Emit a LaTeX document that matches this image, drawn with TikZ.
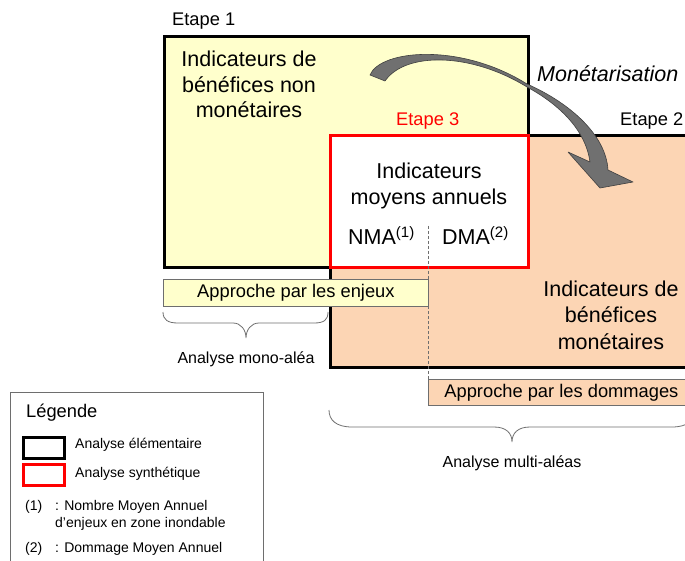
\documentclass[tikz,border=0pt]{standalone}
\usepackage{fontspec}
\setmainfont{Liberation Sans}
\definecolor{yel}{RGB}{255,255,204}
\definecolor{peach}{RGB}{252,213,180}
\definecolor{arrowgray}{RGB}{112,112,112}
\definecolor{edgegray}{RGB}{110,110,110}
\newcommand{\fbig}{\fontsize{21.5pt}{26.5pt}\selectfont}
\newcommand{\fbigA}{\fontsize{21.5pt}{25.5pt}\selectfont}
\newcommand{\fmid}{\fontsize{18.3pt}{22pt}\selectfont}
\newcommand{\fsml}{\fontsize{16pt}{19pt}\selectfont}
\newcommand{\fleg}{\fontsize{14pt}{15.5pt}\selectfont}
\begin{document}
\begin{tikzpicture}[x=1pt,y=-1pt,
  bigbox/.style={draw, line width=2.6pt, anchor=north west, inner sep=0pt},
  tag/.style={draw=edgegray, line width=0.8pt, anchor=north west, inner sep=0pt},
  lbl/.style={anchor=base west, inner sep=0pt},
  lblc/.style={anchor=base, inner sep=0pt},
  bracestyle/.style={draw=edgegray, line width=0.8pt},
  legbox/.style={line width=2.6pt, anchor=north west, inner sep=0pt, minimum width=41pt, minimum height=21pt}]
\useasboundingbox (0,0) rectangle (685,561);
\clip (0,0) rectangle (685,561);

% boxes
\node[bigbox, fill=peach, minimum width=380pt, minimum height=232pt] (e2) at (329,134) {};
\node[bigbox, fill=yel, minimum width=364pt, minimum height=231pt] (e1) at (163,35) {};
\node[bigbox, draw=red, fill=white, minimum width=198pt, minimum height=132pt] (e3) at (329,134) {};

% stage labels
\node[lbl, font=\fmid] (l1) at (172,26) {Etape 1};
\node[lbl, font=\fmid, text=red] (l3) at (396,126) {Etape 3};
\node[lbl, font=\fmid] (l2) at (620,126) {Etape 2};
\node[lbl, font=\fbig\itshape] (mon) at (537,82) {Monétarisation};

% box texts
\node[align=center, font=\fbigA, inner sep=0pt] (t1) at (249,84.6) {Indicateurs de\\bénéfices non\\monétaires};
\node[align=center, font=\fbig, inner sep=0pt] (t3) at (429,186) {Indicateurs\\moyens annuels};
\node[align=center, font=\fbig, inner sep=0pt] (t2) at (611,315) {Indicateurs de\\bénéfices\\monétaires};
\node[lbl, font=\fbig] (nma) at (348,245) {NMA\textsuperscript{(1)}};
\node[lbl, font=\fbig] (dma) at (442,245) {DMA\textsuperscript{(2)}};

% dashed divider
\coordinate (d1) at (428,226);
\coordinate (d2) at (428,380);
\draw[edgegray, line width=0.7pt, dash pattern=on 3pt off 2pt] (d1) -- (d2);

% approach tags
\node[tag, fill=yel, minimum width=265pt, minimum height=27pt, font=\fmid] (enj) at (163,279) {Approche par les enjeux};
\node[tag, fill=peach, minimum width=266pt, minimum height=26pt, font=\fmid] (dom) at (428,379) {Approche par les dommages};

% braces
\coordinate (b1a) at (163,312);
\coordinate (b1b) at (328,312);
\draw[bracestyle] (b1a) .. controls (163,320) and (168,323) .. (178,323) -- (233,323)
  .. controls (241,323) and (246,330) .. (246,338)
  .. controls (246,330) and (251,323) .. (259,323) -- (314,323)
  .. controls (324,323) and (328,320) .. (b1b);
\node[lblc, font=\fsml] (mono) at (246,363) {Analyse mono-aléa};

\coordinate (b2a) at (329,410);
\coordinate (b2b) at (695,410);
\draw[bracestyle] (b2a) .. controls (329,420) and (336,427) .. (352,427) -- (494,427)
  .. controls (506,427) and (512,433) .. (512,442)
  .. controls (512,433) and (518,427) .. (530,427) -- (672,427)
  .. controls (688,427) and (695,420) .. (b2b);
\node[lblc, font=\fsml] (multi) at (512,467) {Analyse multi-aléas};

% curved arrow
\coordinate (ta) at (370,75);
\coordinate (tb) at (385,81);
\coordinate (nk1) at (527,84);
\coordinate (nk2) at (527,87);
\coordinate (hb1) at (608,170);
\coordinate (hb2) at (633,182);
\coordinate (tip) at (600,188);
\coordinate (hb3) at (568,152);
\coordinate (hb4) at (590,162);
\draw[fill=arrowgray, draw=black!75, line width=0.6pt, line join=round]
  (ta) .. controls (380,50) and (460,42) .. (nk1)
  .. controls (570,103) and (606,135) .. (hb1)
  -- (hb2) -- (tip) -- (hb3) -- (hb4)
  .. controls (586,132) and (562,106) .. (nk2)
  .. controls (470,52) and (405,52) .. (tb) -- cycle;

% legend
\node[draw=edgegray, line width=0.9pt, anchor=north west, inner sep=0pt, minimum width=253pt, minimum height=190pt] (leg) at (10,392) {};
\node[lbl, font=\fmid] (legt) at (26,417) {Légende};
\node[legbox, draw=black] (lk1) at (22,436) {};
\node[legbox, draw=red] (lk2) at (22,463) {};
\node[lbl, font=\fleg] (lt1) at (75,448) {Analyse élémentaire};
\node[lbl, font=\fleg] (lt2) at (75,477) {Analyse synthétique};
\node[lbl, font=\fleg] (n1) at (25,510) {(1)};
\node[lbl, font=\fleg] (n1a) at (55,510) {: Nombre Moyen Annuel};
\node[lbl, font=\fleg] (n1b) at (55,527) {d’enjeux en zone inondable};
\node[lbl, font=\fleg] (n2) at (25,552) {(2)};
\node[lbl, font=\fleg] (n2a) at (55,552) {: Dommage Moyen Annuel};
\end{tikzpicture}
\end{document}
